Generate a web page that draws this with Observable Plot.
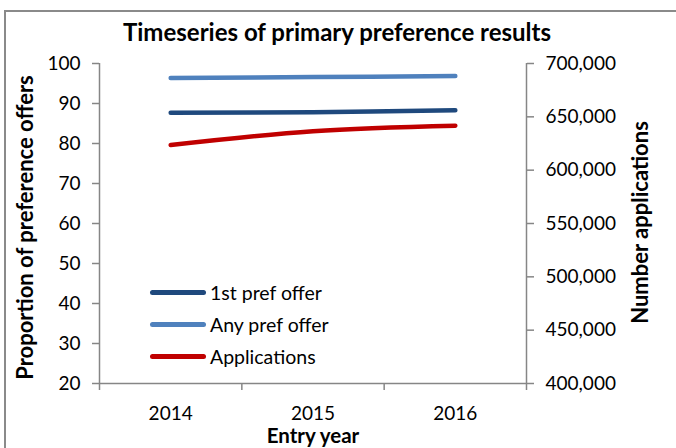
<!DOCTYPE html>
<html>
<head>
<meta charset="utf-8">
<script src="https://cdn.jsdelivr.net/npm/d3@7"></script>
<script src="https://cdn.jsdelivr.net/npm/@observablehq/plot@0.6"></script>
<style>
  html, body { margin: 0; padding: 0; background: #fff; }
  #wrap { position: relative; width: 676px; height: 448px; overflow: hidden; font-family: Lato, "Open Sans", sans-serif; }
  #border { position: absolute; left: 4px; top: 10px; width: 800px; height: 600px; border: 2px solid #8a8a8a; box-sizing: border-box; pointer-events: none; }
  #legend { position: absolute; left: 150px; top: 276px; font-size: 19.5px; color: #000; }
  #legend .item { display: flex; align-items: center; height: 32px; }
  #legend .sw { width: 56px; height: 5px; border-radius: 3px; margin-right: 4px; }
</style>
</head>
<body>
<div id="wrap"><div id="border"></div><div id="legend"></div></div>
<script>
const years = [2014, 2015, 2016];
const firstPref = [87.7, 87.8, 88.3];
const anyPref = [96.4, 96.6, 96.9];
const applications = [623500, 636500, 641600];
const leftTicks = [20, 30, 40, 50, 60, 70, 80, 90, 100];
const rightTicks = [400000, 450000, 500000, 550000, 600000, 650000, 700000];
const seriesNames = ["1st pref offer", "Any pref offer", "Applications"];
const seriesColors = ["#1F497D", "#4F81BD", "#C00000"];
const title = "Timeseries of primary preference results";
const leftTitle = "Proportion of preference offers";
const rightTitle = "Number applications";
const xTitle = "Entry year";

const rMin = 400000, rMax = 700000, lMin = 20, lMax = 100;
const toLeft = v => lMin + (v - rMin) * (lMax - lMin) / (rMax - rMin);
const fromLeft = v => rMin + (v - lMin) * (rMax - rMin) / (lMax - lMin);

const data = [];
years.forEach((yr, i) => {
  data.push({year: yr, series: seriesNames[0], v: firstPref[i]});
  data.push({year: yr, series: seriesNames[1], v: anyPref[i]});
  data.push({year: yr, series: seriesNames[2], v: toLeft(applications[i])});
});
const bounds = years.map(y => y - 0.5).concat([years[years.length - 1] + 0.5]);
const gray = "#868686";

const plot = Plot.plot({
  width: 676,
  height: 448,
  marginLeft: 99,
  marginRight: 150,
  marginTop: 63,
  marginBottom: 65,
  style: {fontFamily: "Lato, 'Open Sans', sans-serif", fontSize: "19px", color: "#000", background: "transparent"},
  x: {domain: [bounds[0], bounds[bounds.length - 1]], axis: null},
  y: {domain: [lMin, lMax], axis: null},
  color: {domain: seriesNames, range: seriesColors},
  marks: [
    Plot.ruleX([bounds[0], bounds[bounds.length - 1]], {stroke: gray, strokeWidth: 1.5}),
    Plot.ruleY([lMin], {stroke: gray, strokeWidth: 1.5}),
    Plot.axisX(bounds, {label: null, tickSize: 7, tickFormat: () => "", stroke: gray, strokeWidth: 1.5}),
    Plot.axisX(years, {label: null, tickSize: 0, tickPadding: 23, tickFormat: d => String(d), fill: "#000", fontSize: 19}),
    Plot.axisY(leftTicks, {label: null, anchor: "left", tickSize: 7, tickPadding: 12, stroke: gray, strokeWidth: 1.5, fill: "#000", fontSize: 19}),
    Plot.axisY(rightTicks.map(toLeft), {label: null, anchor: "right", tickSize: 7, tickPadding: 12, stroke: gray, strokeWidth: 1.5, fill: "#000", fontSize: 19,
      tickFormat: d => d3.format(",")(Math.round(fromLeft(d)))}),
    Plot.line(data, {x: "year", y: "v", z: "series", stroke: "series", strokeWidth: 4.5, strokeLinecap: "round", curve: "catmull-rom"}),
    Plot.text([title], {frameAnchor: "top", dx: 24, dy: -30, fontSize: 24, fontWeight: "bold", lineAnchor: "middle", textAnchor: "middle", fill: "#000"}),
    Plot.text([leftTitle], {frameAnchor: "left", dx: -74, dy: 4, rotate: -90, fontSize: 22, fontWeight: "bold", lineAnchor: "middle", textAnchor: "middle", fill: "#000"}),
    Plot.text([rightTitle], {frameAnchor: "right", dx: 114, dy: -1, rotate: -90, fontSize: 22, fontWeight: "bold", lineAnchor: "middle", textAnchor: "middle", fill: "#000"}),
    Plot.text([xTitle], {frameAnchor: "bottom", dy: 53, fontSize: 20.5, fontWeight: "bold", lineAnchor: "middle", textAnchor: "middle", fill: "#000"})
  ]
});
plot.style.position = "absolute";
plot.style.left = "0px";
plot.style.top = "0px";
const wrap = document.getElementById("wrap");
wrap.insertBefore(plot, wrap.firstChild);

const legend = document.getElementById("legend");
seriesNames.forEach((name, i) => {
  const item = document.createElement("div");
  item.className = "item";
  const sw = document.createElement("span");
  sw.className = "sw";
  sw.style.background = seriesColors[i];
  const lab = document.createElement("span");
  lab.textContent = name;
  item.appendChild(sw);
  item.appendChild(lab);
  legend.appendChild(item);
});
</script>
</body>
</html>
